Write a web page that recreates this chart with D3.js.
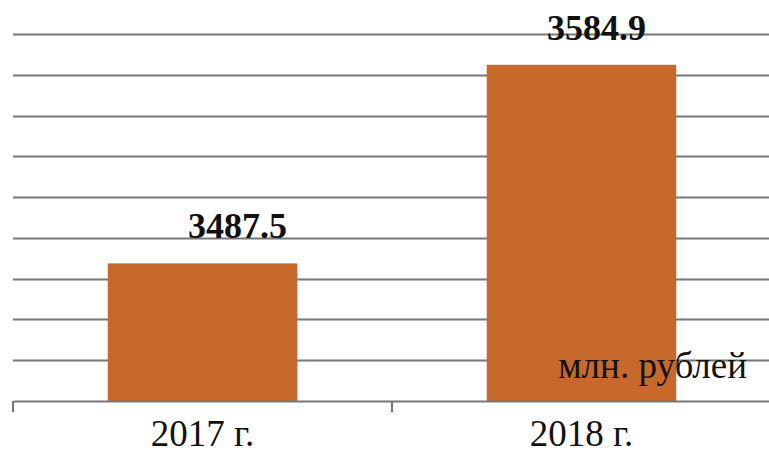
<!DOCTYPE html>
<html lang="ru">
<head>
<meta charset="UTF-8">
<title>Chart</title>
<script src="https://d3js.org/d3.v7.min.js"></script>
<style>
  body { margin: 0; background: #fff; }
  text { font-family: "Liberation Serif", "Times New Roman", serif; }
</style>
</head>
<body>
<div class="canvas"></div>
<script>
  // data
  const categories = ['2017 г.', '2018 г.']
  const values = [3487.5, 3584.9]
  const valueLabels = ['3487.5', '3584.9']
  const yTicks = [3440, 3460, 3480, 3500, 3520, 3540, 3560, 3580, 3600]
  const unitLabel = 'млн. рублей'

  const width = 769
  const height = 452
  const [ml, mr, mt, mb] = [13, 771, 34, 401]

  const svg = d3.select('.canvas')
    .append('svg')
    .attr('width', width)
    .attr('height', height)

  const x = d3.scaleBand()
    .domain(categories)
    .range([ml, mr])
    .paddingInner(0.5)
    .paddingOuter(0.25)

  const y = d3.scaleLinear()
    .domain([3420, 3600])
    .range([mb, mt])

  // gridlines
  svg.append('g')
    .selectAll('line')
    .data(yTicks)
    .enter()
    .append('line')
    .attr('x1', ml)
    .attr('x2', width)
    .attr('y1', d => Math.round(y(d)) + 0.5)
    .attr('y2', d => Math.round(y(d)) + 0.5)
    .attr('stroke', '#777')
    .attr('stroke-width', 2)

  // bars
  svg.append('g')
    .selectAll('rect')
    .data(values)
    .enter()
    .append('rect')
    .attr('x', (d, i) => x(categories[i]))
    .attr('width', x.bandwidth())
    .attr('y', d => y(d))
    .attr('height', d => y(3420) - y(d))
    .attr('fill', '#c6692a')

  // axis
  const xAxisG = svg.append('g')
    .attr('transform', `translate(0, ${mb})`)
  xAxisG.call(d3.axisBottom(x).tickSize(0).tickSizeOuter(0).tickPadding(0))
  xAxisG.select('.domain').attr('stroke', '#777').attr('stroke-width', 2)
  xAxisG.selectAll('text')
    .attr('font-family', '"Liberation Serif", "Times New Roman", serif')
    .attr('font-size', 37)
    .attr('fill', '#111')
    .attr('y', 45)
    .attr('dy', 0)

  // tick marks at band edges
  const edges = categories.map(c => x(c) - x.step() * x.paddingInner() / 2)
  edges.push(mr)
  xAxisG.selectAll('.edge')
    .data(edges)
    .enter()
    .append('line')
    .attr('class', 'edge')
    .attr('x1', d => Math.round(d))
    .attr('x2', d => Math.round(d))
    .attr('y1', 0)
    .attr('y2', 11)
    .attr('stroke', '#777')
    .attr('stroke-width', 2)

  // value labels
  const labelDx = [35, 15]
  svg.append('g')
    .selectAll('text')
    .data(values)
    .enter()
    .append('text')
    .attr('x', (d, i) => x(categories[i]) + x.bandwidth() / 2 + labelDx[i])
    .attr('y', d => y(d) - 25)
    .attr('text-anchor', 'middle')
    .attr('font-size', 36)
    .attr('font-weight', 'bold')
    .attr('fill', '#111')
    .text((d, i) => valueLabels[i])

  // unit
  svg.append('text')
    .attr('x', 747)
    .attr('y', 378)
    .attr('text-anchor', 'end')
    .attr('font-size', 37)
    .attr('fill', '#111')
    .text(unitLabel)
</script>
</body>
</html>
